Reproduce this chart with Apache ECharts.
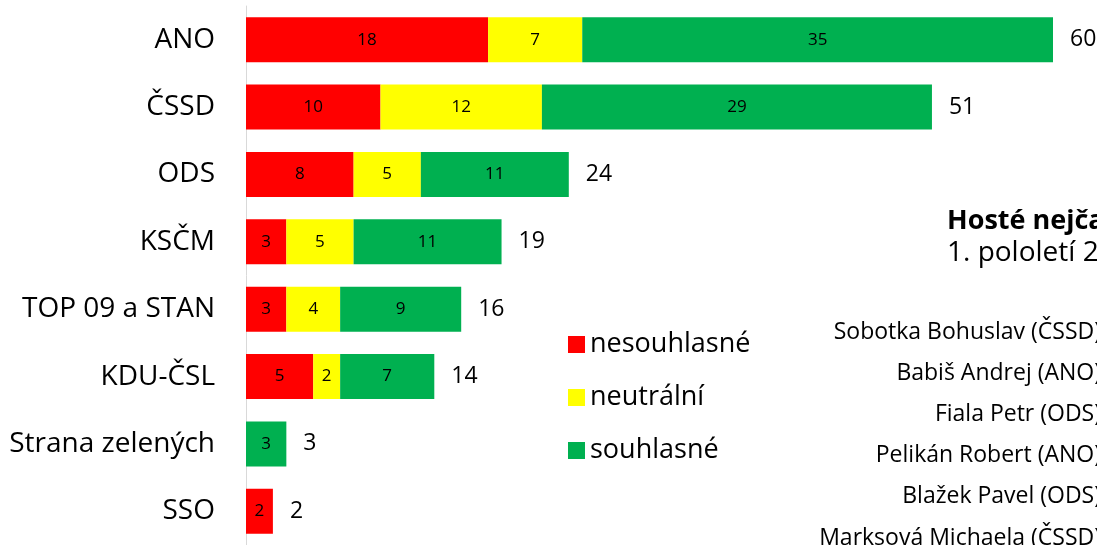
<!DOCTYPE html>
<html><head><meta charset="utf-8">
<script src="https://cdn.jsdelivr.net/npm/echarts@6/dist/echarts.min.js"></script>
<style>html,body{margin:0;padding:0;background:#fff;}#c{width:1097px;height:545px;}</style>
</head><body><div id="c"></div>
<script>
const categories = ['ANO','ČSSD','ODS','KSČM','TOP 09 a STAN','KDU-ČSL','Strana zelených','SSO'];
const nesouhlasne = [18,10,8,3,3,5,0,2];
const neutralni = [7,12,5,5,4,2,0,0];
const souhlasne = [35,29,11,11,9,7,3,0];
const seriesNames = ['nesouhlasné','neutrální','souhlasné'];
const titleLines = ['Hosté nejča','1. pololetí 2'];
const guestNames = ['Sobotka Bohuslav (ČSSD)','Babiš Andrej (ANO)','Fiala Petr (ODS)','Pelikán Robert (ANO)','Blažek Pavel (ODS)','Marksová Michaela (ČSSD)'];

const totals = categories.map((c,i)=>nesouhlasne[i]+neutralni[i]+souhlasne[i]);
const FONT = '"Open Sans"';
const colors = ['#FF0000','#FFFF00','#00B050'];
const inLabel = {show:true, position:'inside', color:'#000', fontFamily:FONT, fontSize:17,
  formatter:p=>p.value>0?String(p.value):''};

const chart = echarts.init(document.getElementById('c'), null, {renderer:'canvas'});
const guestGraphics = guestNames.map((n,i)=>({
  type:'text', x:1101, y: 332 + i*41.2,
  style:{text:n, fill:'#000', font:'23px '+FONT, textAlign:'right', textVerticalAlign:'middle', align:'right', verticalAlign:'middle'}
}));
chart.setOption({
  animation:false,
  backgroundColor:'#fff',
  grid:{left:246, top:6, width:807, height:542, containLabel:false},
  xAxis:{type:'value', min:0, max:60, show:false},
  yAxis:{type:'category', data:categories, inverse:true,
    axisLine:{show:true, lineStyle:{color:'#d9d9d9', width:1}},
    axisTick:{show:false},
    axisLabel:{color:'#000', fontFamily:FONT, fontSize:28, margin:31}},
  legend:{orient:'vertical', left:563, top:326, itemWidth:17, itemHeight:17, itemGap:26,
    icon:'rect', data:seriesNames,
    textStyle:{color:'#000', fontFamily:FONT, fontSize:27, padding:[0,0,0,0]}},
  graphic:[
    {type:'text', x:947, y:221, style:{text:titleLines[0], fill:'#000', font:'bold 27px '+FONT, textVerticalAlign:'middle', verticalAlign:'middle'}},
    {type:'text', x:947, y:253, style:{text:titleLines[1], fill:'#000', font:'28px '+FONT, textVerticalAlign:'middle', verticalAlign:'middle'}},
    ...guestGraphics
  ],
  series:[
    {name:seriesNames[0], type:'bar', stack:'a', barWidth:45, data:nesouhlasne, itemStyle:{color:colors[0]}, label:inLabel},
    {name:seriesNames[1], type:'bar', stack:'a', barWidth:45, data:neutralni, itemStyle:{color:colors[1]}, label:inLabel},
    {name:seriesNames[2], type:'bar', stack:'a', barWidth:45, data:souhlasne, itemStyle:{color:colors[2]}, label:inLabel},
    {name:'total', type:'scatter', symbolSize:0, itemStyle:{opacity:1}, data:totals.map((t,i)=>[t,categories[i]]),
      label:{show:true, position:'right', distance:17, color:'#000', fontFamily:FONT, fontSize:23,
        formatter:p=>String(p.value[0])}}
  ]
});
</script></body></html>
